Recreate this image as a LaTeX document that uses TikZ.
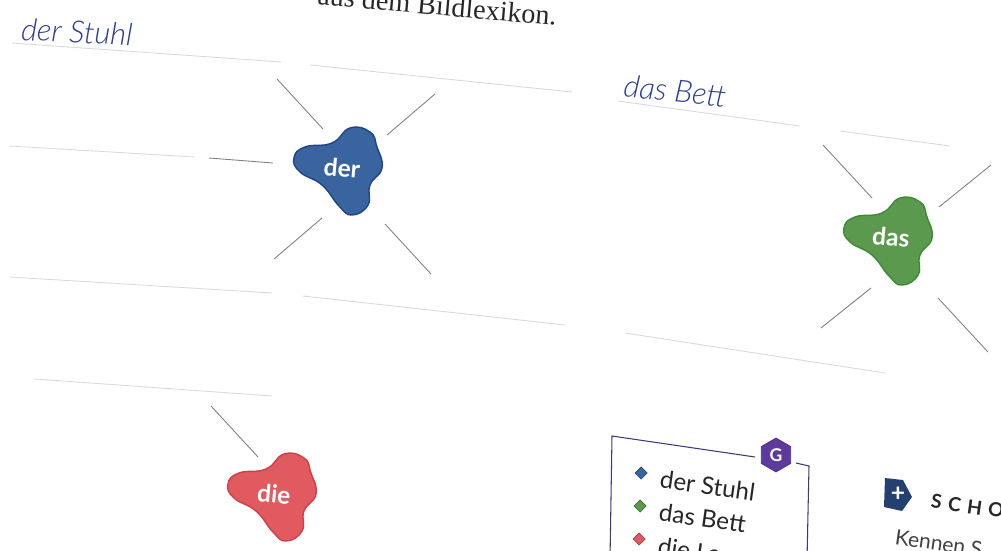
\documentclass[tikz,border=0pt]{standalone}
\usepackage{fontspec}
\setmainfont{Lato}
\newfontfamily\bookfont{Liberation Serif}
\newfontfamily\penfont{Lato Light}
\definecolor{derblue}{HTML}{3A649F}
\definecolor{derline}{HTML}{1F4585}
\definecolor{dasgreen}{HTML}{5B9A4E}
\definecolor{dasline}{HTML}{3C8A35}
\definecolor{diered}{HTML}{E05A60}
\definecolor{dieline}{HTML}{CF3F48}
\definecolor{boxline}{HTML}{3A3A78}
\definecolor{penblue}{HTML}{2B3A94}
\definecolor{gpurple}{HTML}{5D3B9C}
\definecolor{plusblue}{HTML}{24406F}
\newcommand{\blobpath}{plot[smooth cycle, tension=0.8] coordinates {(-44,-12) (-33,-23) (-6,-27) (12,-42) (32,-38) (39,-23) (44,-2) (32,15) (30,35) (14,45) (1,36) (-16,15) (-38,2)}}
\tikzset{
    spoke/.style={black!50, line width=0.5pt},
    writeline/.style={black!15, line width=0.5pt},
    blobtext/.style={text=white, font=\fontsize{14}{14}\selectfont\bfseries, rotate=-5, inner sep=0pt},
    pen/.style={text=penblue, font=\penfont\fontsize{17.5}{17.5}\selectfont\itshape, inner sep=0pt},
    legend/.style={anchor=west, text=black!85, font=\fontsize{13.8}{13.8}\selectfont, rotate=-8, inner sep=0pt},
    legendmark/.style={diamond, minimum size=7pt, inner sep=0pt, draw=#1!70!black, fill=#1},
}
\usetikzlibrary{shapes.geometric}
\begin{document}
\begin{tikzpicture}[x=0.02cm, y=-0.02cm]

    \useasboundingbox (0, 0) rectangle (1001, 551);
    \clip (0, 0) rectangle (1001, 551);

    \node[anchor=east, rotate=-5, inner sep=0pt, text=black!85, font=\bookfont\fontsize{16}{16}\selectfont] (lexikon) at (557, 16) {aus dem Bildlexikon.};

    \node[pen, rotate=-3] (stuhlword) at (77, 32) {der Stuhl};
    \node[pen, rotate=-6] (bettword) at (675, 91) {das Bett};

    % lines to write on
    \foreach \name/\ax/\ay/\bx/\by in {a/12/43/281/62, b/310/65/572/92, c/10/146/195/157, d/10/277/272/293,
        e/303/296/565/325, f/625/333/885/373, g/35/379/272/396, h/618/101/800/126, i/840/131/950/146} {
        \coordinate (\name1) at (\ax, \ay);
        \coordinate (\name2) at (\bx, \by);
        \draw[writeline] (\name1) -- (\name2);
    }

    \begin{scope}[shift={(338, 170)}]
        \draw[fill=derblue, draw=derline, line width=0.8pt] \blobpath;
    \end{scope}
    \begin{scope}[shift={(888, 240)}]
        \draw[fill=dasgreen, draw=dasline, line width=0.8pt] \blobpath;
    \end{scope}
    \begin{scope}[shift={(272, 496)}]
        \draw[fill=diered, draw=dieline, line width=0.8pt] \blobpath;
    \end{scope}

    \node[blobtext] (der) at (342, 168) {der};
    \node[blobtext] (das) at (891, 237) {das};
    \node[blobtext] (die) at (274, 494) {die};

    \foreach \name/\ax/\ay/\bx/\by in {derA/277/79/323/129, derB/435/94/387/135, derC/209/158/273/163,
        derD/322/218/274/259, derE/385/224/431/274, dasA/823/145/872/198, dasB/991/165/939/207,
        dasC/871/288/821/328, dasD/938/298/988/352, dieA/211/406/258/457} {
        \coordinate (\name1) at (\ax, \ay);
        \coordinate (\name2) at (\bx, \by);
        \draw[spoke] (\name1) -- (\name2);
    }

    % box with the G
    \coordinate (boxA) at (755, 457);
    \coordinate (boxB) at (612, 436);
    \coordinate (boxC) at (610, 560);
    \coordinate (boxD) at (796, 463);
    \coordinate (boxE) at (809, 466);
    \coordinate (boxF) at (807, 560);
    \draw[boxline, line width=0.6pt] (boxA) -- (boxB) -- (boxC);
    \draw[boxline, line width=0.6pt] (boxD) -- (boxE) -- (boxF);

    \node[regular polygon, regular polygon sides=6, shape border rotate=30, minimum size=34*0.567pt, inner sep=0pt, fill=gpurple, draw=gpurple!80!black, text=white,
        font=\fontsize{10}{10}\selectfont\bfseries] (gmark) at (776, 455) {G};

    \node[legendmark=derblue] (stuhlmark) at (641, 473) {};
    \node[legendmark=dasgreen] (bettmark) at (640, 506) {};
    \node[legendmark=diered] (lampmark) at (639, 539) {};
    \node[legend] (stuhl) at (660, 479) {der Stuhl};
    \node[legend] (bett) at (659, 512) {das Bett};
    \node[legend] (lamp) at (658, 546) {die Lam};

    % SCHO heading
    \fill[plusblue] (885, 478) -- (903, 480) -- (912, 497) -- (902, 511) -- (884, 507) -- cycle;
    \node[text=white, inner sep=0pt, font=\fontsize{14}{14}\selectfont\bfseries] (plus) at (898, 494) {+};
    \node[anchor=west, rotate=-8, inner sep=0pt, text=black!85, font=\fontsize{11}{11}\selectfont\bfseries] (scho) at (931, 501) {S\,\,C\,\,H\,\,O};
    \node[anchor=west, rotate=-8, inner sep=0pt, text=black!75, font=\fontsize{12}{12}\selectfont] (kennen) at (895, 537) {Kennen S};

\end{tikzpicture}
\end{document}
